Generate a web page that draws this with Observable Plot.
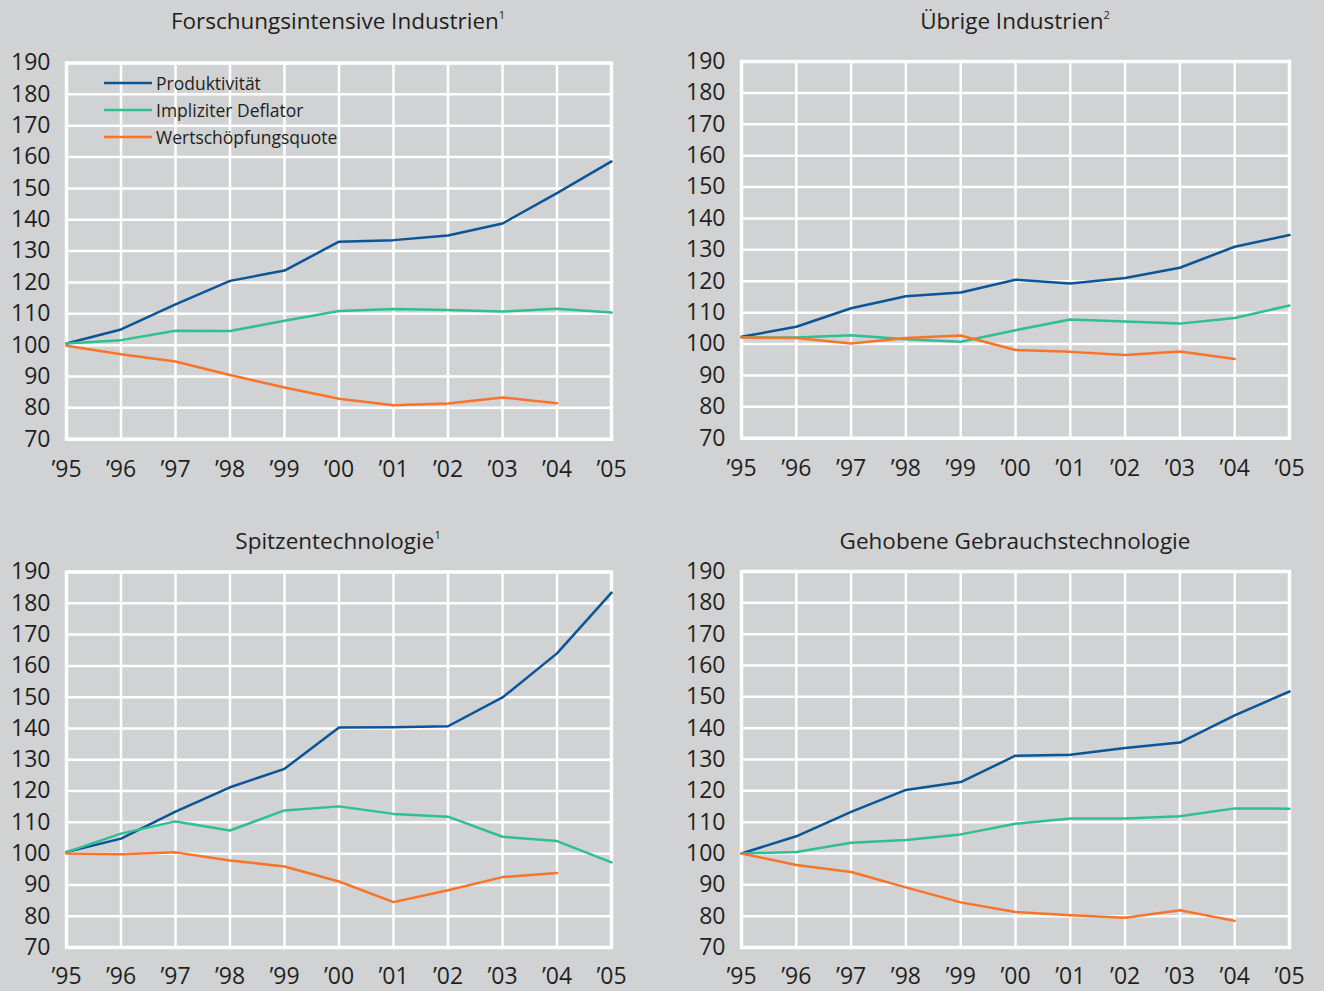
<!DOCTYPE html>
<html>
<head>
<meta charset="utf-8">
<script src="https://cdn.jsdelivr.net/npm/d3@7"></script>
<script src="https://cdn.jsdelivr.net/npm/@observablehq/plot@0.6"></script>
<style>
  html, body { margin: 0; padding: 0; background: #d1d2d4; }
  #root { position: relative; width: 1324px; height: 991px; background: #d1d2d4; overflow: hidden;
          font-family: "Open Sans", sans-serif; color: #231f20; }
  .title { position: absolute; font-size: 22.5px; text-align: center; white-space: nowrap; transform: translate(-50%, -50%); }
  .title sup { font-size: 11px; vertical-align: 10px; line-height: 0; }
  .panel { position: absolute; }
  .panel svg { max-width: none !important; }
  .legend { position: absolute; left: 104px; top: 69px; font-size: 17.5px; }
  .legend div { display: flex; align-items: center; height: 27px; }
  .legend svg { margin-right: 4px; }
</style>
</head>
<body>
<div id="root"></div>
<script>
// ---------- data ----------
const years = [1995, 1996, 1997, 1998, 1999, 2000, 2001, 2002, 2003, 2004, 2005];
const xTickLabels = ["’95", "’96", "’97", "’98", "’99", "’00", "’01", "’02", "’03", "’04", "’05"];
const yTicks = [70, 80, 90, 100, 110, 120, 130, 140, 150, 160, 170, 180, 190];
const seriesNames = ["Produktivität", "Impliziter Deflator", "Wertschöpfungsquote"];
const seriesColors = ["#0a5598", "#2ec08f", "#f97428"];

const panelTitles = ["Forschungsintensive Industrien", "Übrige Industrien", "Spitzentechnologie", "Gehobene Gebrauchstechnologie"];
const panelFootnotes = ["1", "2", "1", ""];

const forschProd = [100.5, 105, 113, 120.5, 123.8, 133, 133.5, 135, 138.8, 148.5, 158.6];
const forschDefl = [100.5, 101.6, 104.6, 104.5, 107.8, 110.9, 111.5, 111.2, 110.7, 111.6, 110.4];
const forschWsq  = [99.8, 97.1, 94.8, 90.5, 86.5, 82.9, 80.8, 81.4, 83.3, 81.5];

const uebrigeProd = [102.3, 105.5, 111.4, 115.2, 116.4, 120.5, 119.3, 121, 124.3, 131, 134.7];
const uebrigeDefl = [102.1, 102.1, 102.8, 101.5, 100.7, 104.4, 107.8, 107.2, 106.5, 108.3, 112.3];
const uebrigeWsq  = [102.1, 101.9, 100.2, 101.9, 102.7, 98.1, 97.5, 96.5, 97.6, 95.2];

const spitzeProd = [100.5, 104.8, 113.4, 121.2, 127.1, 140.3, 140.4, 140.7, 149.9, 164, 183.4];
const spitzeDefl = [100.5, 106.4, 110.3, 107.4, 113.8, 115.1, 112.7, 111.8, 105.4, 104, 97.2];
const spitzeWsq  = [100, 99.8, 100.4, 97.8, 95.9, 91.1, 84.5, 88.3, 92.5, 93.8];

const gehobenProd = [100, 105.5, 113.3, 120.3, 122.8, 131.2, 131.5, 133.7, 135.4, 144.1, 151.7];
const gehobenDefl = [100, 100.5, 103.4, 104.3, 106.1, 109.5, 111.2, 111.2, 111.9, 114.4, 114.3];
const gehobenWsq  = [100, 96.3, 94.1, 89.2, 84.4, 81.3, 80.3, 79.5, 81.9, 78.5];

const panelSeries = [
  [forschProd, forschDefl, forschWsq],
  [uebrigeProd, uebrigeDefl, uebrigeWsq],
  [spitzeProd, spitzeDefl, spitzeWsq],
  [gehobenProd, gehobenDefl, gehobenWsq]
];

// ---------- layout ----------
const layouts = [
  {left: 0,   top: 40,  width: 662, height: 470, mt: 22.5, mb: 71.3, ml: 66, mr: 51, tx: 338, ty: 20, xp: 21.5},
  {left: 675, top: 40,  width: 649, height: 470, mt: 21,   mb: 72.3, ml: 66, mr: 35, tx: 1015, ty: 20, xp: 21.5},
  {left: 0,   top: 550, width: 662, height: 441, mt: 21.5, mb: 44,   ml: 66, mr: 51, tx: 338, ty: 540, xp: 20},
  {left: 675, top: 550, width: 649, height: 441, mt: 21,   mb: 44,   ml: 66, mr: 35, tx: 1015, ty: 540, xp: 20}
];

const root = document.getElementById("root");

panelSeries.forEach((series, p) => {
  const L = layouts[p];
  const rows = [];
  series.forEach((vals, s) => vals.forEach((v, i) => rows.push({year: years[i], value: v, series: seriesNames[s]})));

  const t = document.createElement("div");
  t.className = "title";
  t.style.left = L.tx + "px";
  t.style.top = L.ty + "px";
  t.innerHTML = panelTitles[p] + (panelFootnotes[p] ? "<sup>" + panelFootnotes[p] + "</sup>" : "");
  root.appendChild(t);

  const chart = Plot.plot({
    width: L.width, height: L.height,
    marginTop: L.mt, marginBottom: L.mb, marginLeft: L.ml, marginRight: L.mr,
    style: {background: "transparent", fontFamily: "'Open Sans', sans-serif", fontSize: "23px", color: "#231f20", overflow: "visible"},
    x: {domain: [1995, 2005], label: null},
    y: {domain: [70, 190], label: null},
    color: {domain: seriesNames, range: seriesColors},
    marks: [
      Plot.gridX(years, {stroke: "white", strokeOpacity: 1, strokeWidth: 2.5}),
      Plot.gridY(yTicks, {stroke: "white", strokeOpacity: 1, strokeWidth: 2.5}),
      Plot.frame({stroke: "white", strokeWidth: 3.5}),
      Plot.axisX({ticks: years, tickFormat: d => xTickLabels[years.indexOf(d)], tickSize: 0, tickPadding: L.xp, fill: "#231f20", label: null}),
      Plot.axisY({ticks: yTicks, tickSize: 0, tickPadding: 16, fill: "#231f20", label: null}),
      Plot.line(rows, {x: "year", y: "value", z: "series", stroke: "series", strokeWidth: 2.5})
    ]
  });
  const wrap = document.createElement("div");
  wrap.className = "panel";
  wrap.style.left = L.left + "px";
  wrap.style.top = L.top + "px";
  wrap.style.width = L.width + "px";
  wrap.style.height = L.height + "px";
  wrap.appendChild(chart);
  root.appendChild(wrap);
});

// legend (HTML, inside first panel)
const lg = document.createElement("div");
lg.className = "legend";
seriesNames.forEach((name, i) => {
  const row = document.createElement("div");
  row.innerHTML = `<svg width="48" height="4"><line x1="0" x2="48" y1="2" y2="2" stroke="${seriesColors[i]}" stroke-width="2.5"/></svg><span>${name}</span>`;
  lg.appendChild(row);
});
root.appendChild(lg);
</script>
</body>
</html>
